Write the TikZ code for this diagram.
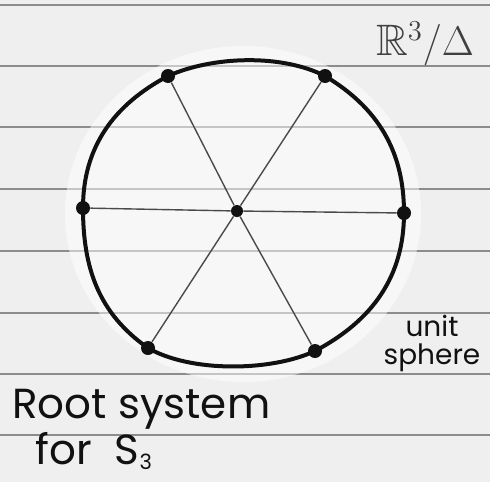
\documentclass[tikz,border=0pt]{standalone}
\usepackage{amssymb}
\usepackage{fontspec}
\setmainfont{Poppins}
\usetikzlibrary{positioning}
\definecolor{ink}{HTML}{111111}
\definecolor{pencil}{HTML}{4A4A4A}
\definecolor{rulegray}{HTML}{8C8C8C}
\definecolor{paper}{HTML}{EFEFEF}

\begin{document}
\begin{tikzpicture}[
  x=0.5pt, y=-0.5pt,
  root/.style={circle, fill=ink, inner sep=0pt, minimum size=7pt},
  origin/.style={circle, fill=ink, inner sep=0pt, minimum size=6pt},
  ray/.style={pencil, line width=0.7pt},
  sphere/.style={ink, line width=2pt, line join=round, line cap=round},
  ruled/.style={rulegray, line width=0.6pt},
  hand/.style={ink, inner sep=0pt, font=\fontsize{21}{21}\selectfont},
]
\useasboundingbox (0,0) rectangle (490,482);

% paper
\fill[paper] (0,0) rectangle (490,482);
\foreach \y in {5,66,127,189,251,313,374,435}
  \draw[ruled] (0,\y) -- (490,\y);
\fill[white, opacity=0.5] (243,214) ellipse [x radius=178, y radius=168];

% roots of S_3
\node[origin] (o) at (237,211) {};
\node[root] (a1) at (168,76) {};
\node[root] (a2) at (325,76) {};
\node[root] (a3) at (404,213) {};
\node[root] (a4) at (315,351) {};
\node[root] (a5) at (148,348) {};
\node[root] (a6) at (83,208) {};

\foreach \i in {1,...,6}
  \draw[ray] (o) -- (a\i);

% unit sphere
\draw[sphere] (a6.center) to[out=90,in=208] (a1.center)
  to[out=24,in=153,looseness=0.8] (a2.center) to[out=-31,in=90] (a3.center)
  to[out=-90,in=28] (a4.center) to[out=-155,in=-30,looseness=0.75] (a5.center)
  to[out=145,in=-90] (a6.center);

% labels
\node[hand, font=\fontsize{22}{22}\selectfont, black!75] (quot) at (425,44) {$\mathbb{R}^3/\Delta$};
\node[hand, font=\fontsize{14}{14}\selectfont, align=center] (unit) at (432,343) {unit\\sphere};
\node[hand, anchor=base west] (title) at (12,418) {Root system};
\node[hand, anchor=base west] (title2) at (35,464) {for \hspace{6pt}S{\fontsize{15}{15}\selectfont\textsubscript{3}}};

\end{tikzpicture}
\end{document}
